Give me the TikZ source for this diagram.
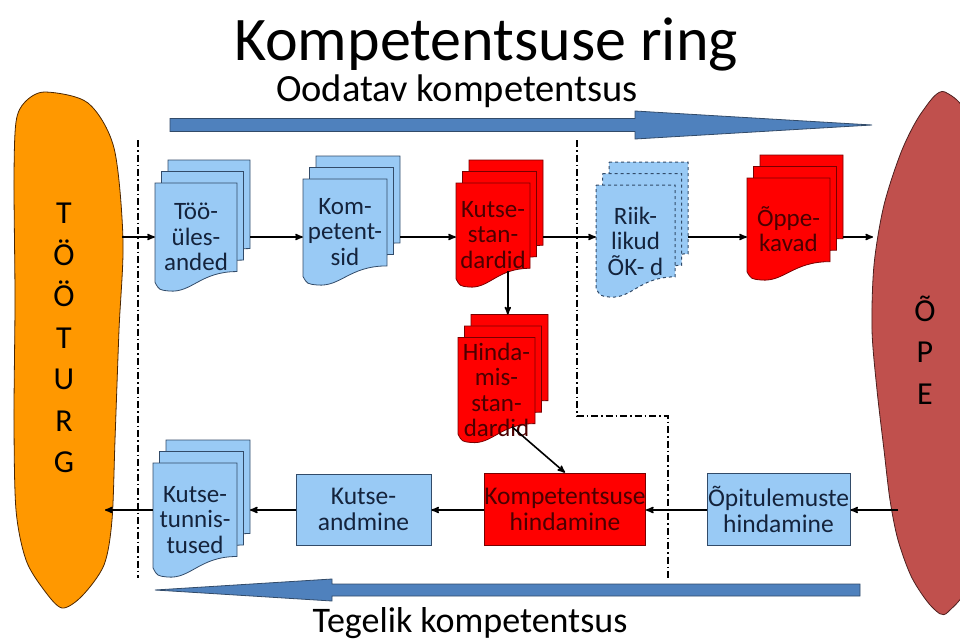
\documentclass[tikz,border=0pt]{standalone}
\usepackage{fontspec}
\setmainfont{Carlito}
\usetikzlibrary{arrows}

\definecolor{lblue}{RGB}{153,202,245}
\definecolor{bline}{RGB}{50,75,105}
\definecolor{btext}{RGB}{20,35,60}
\definecolor{dred}{RGB}{120,0,0}
\definecolor{rtext}{RGB}{75,0,0}
\definecolor{barrow}{RGB}{79,129,189}
\definecolor{orangeblob}{RGB}{255,152,0}
\definecolor{redblob}{RGB}{192,80,77}

% #1 colour scheme, #2 name, #3 cx, #4 cy, #5 width, #6 height, #7 text
\newcommand{\docstack}[7]{
  \foreach \k in {2,1,0}{
    \begin{scope}[shift={(#3+6.5*\k,#4-11.5*\k)}]
      \path[#1page] ({-#5/2},{-#6/2}) -- ({#5/2},{-#6/2}) -- ({#5/2},{0.32*#6})
        .. controls ({0.05*#5},{0.32*#6}) and ({-0.05*#5},{0.52*#6}) .. ({-0.33*#5},{0.5*#6})
        .. controls ({-0.45*#5},{0.49*#6}) .. ({-#5/2},{0.42*#6}) -- cycle;
    \end{scope}
  }
  \node[#1text,minimum width=#5,minimum height=#6] (#2) at (#3,#4) {#7};
  \coordinate (#2-e) at ({#3+#5/2+13},#4);
  \coordinate (#2-top) at ({#3+13},{#4-#6/2-23});
  \coordinate (#2-bot) at ({#3+0.2*#5},{#4+0.35*#6});
}

\begin{document}
\begin{tikzpicture}[x=1pt,y=-1pt,>=stealth',
    bluepage/.style={fill=lblue,draw=bline,line width=0.8pt},
    dashpage/.style={fill=lblue,draw=bline,line width=1pt,dashed},
    redpage/.style={fill=red,draw=dred,line width=0.8pt},
    bluetext/.style={inner sep=0pt,align=center,text=btext,font=\fontsize{25}{25.5}\selectfont},
    dashtext/.style={bluetext},
    redtext/.style={bluetext,text=rtext},
    bluebox/.style={rectangle,fill=lblue,draw=bline,line width=0.8pt,inner sep=0pt,
      align=center,text=btext,font=\fontsize{25.5}{26}\selectfont},
    redbox/.style={bluebox,fill=red,draw=dred,text=rtext},
    conn/.style={->,line width=1.6pt,black},
    sep/.style={line width=1.4pt,dash pattern=on 7pt off 3pt on 1.5pt off 3pt},
    bigarrow/.style={fill=barrow,draw=bline,line width=0.8pt},
    blobtext/.style={align=center,font=\fontsize{32}{41.5}\selectfont}]
  \useasboundingbox (0,0) rectangle (960,642);

  \node[anchor=base,inner sep=0pt,font=\fontsize{62}{66}\selectfont] (title) at (486,60) {Kompetentsuse ring};
  \node[anchor=base,inner sep=0pt,font=\fontsize{38.5}{40}\selectfont] (oodatav) at (457,101) {Oodatav kompetentsus};
  \node[anchor=base,inner sep=0pt,font=\fontsize{36}{40}\selectfont] (tegelik) at (470,632) {Tegelik kompetentsus};

  \path[bigarrow] (170,118.5) -- (635,118.5) -- (635,111) -- (872,125) -- (635,139)
    -- (635,131.5) -- (170,131.5) -- cycle;
  \path[bigarrow] (860,584) -- (332,584) -- (332,579) -- (155,590) -- (332,601)
    -- (332,596) -- (860,596) -- cycle;

  \path[fill=orangeblob,draw=black!70!orange,line width=0.8pt] plot[smooth cycle] coordinates
    {(45,92) (88,103) (114,148) (123,240) (119,330) (115,440) (112,520) (104,565) (82,596)
     (62,608) (44,590) (26,560) (16,510) (14,420) (15,300) (14,180) (16,122) (25,102)};
  \path[fill=redblob,draw=black!60!redblob,line width=0.8pt] plot[smooth cycle] coordinates
    {(945,92) (922,112) (902,150) (884,205) (874,265) (872,330) (877,390) (884,450) (890,500)
     (898,540) (912,578) (932,607) (948,612) (975,560) (985,350) (975,140)};
  \node[blobtext] (tooturg) at (64,338) {T\\Ö\\Ö\\T\\U\\R\\G};
  \node[blobtext] (ope) at (925,350) {Õ\\P\\E};

  \draw[sep] (138,140) -- (138,578);
  \draw[sep] (577,140) -- (577,416) -- (668,416) -- (668,578);

  \docstack{blue}{too}{196}{237}{82}{108}{Töö-\\üles-\\anded}
  \docstack{blue}{komp}{345}{232}{84}{106}{Kom-\\petent-\\sid}
  \docstack{red}{kstd}{493}{235}{74}{104}{Kutse-\\stan-\\dardid}
  \docstack{dash}{riik}{635.5}{241}{79}{112}{Riik-\\likud\\ÕK- d}
  \docstack{red}{oppe}{788.5}{229}{83}{102}{Õppe-\\kavad}
  \docstack{red}{hstd}{496.5}{390}{77}{105}{Hinda-\\mis-\\stan-\\dardid}
  \docstack{blue}{ktun}{195}{520}{84}{114}{Kutse-\\tunnis-\\tused}

  \node[bluebox,minimum width=135,minimum height=71] (kand) at (363.5,509.5) {Kutse-\\andmine};
  \node[redbox,minimum width=160,minimum height=72] (komph) at (565,509) {Kompetentsuse\\hindamine};
  \node[bluebox,minimum width=143,minimum height=72] (opit) at (778.5,509) {Õpitulemuste\\hindamine};

  \coordinate (tin) at (122,237);
  \coordinate (oin) at (873,237);
  \coordinate (oout) at (898,510);
  \coordinate (tout) at (105,510);

  \draw[conn] (tin) -- (too.west |- tin);
  \draw[conn] (too-e |- tin) -- (komp.west |- tin);
  \draw[conn] (komp-e |- tin) -- (kstd.west |- tin);
  \draw[conn] (kstd-e |- tin) -- (riik.west |- tin);
  \draw[conn] (riik-e |- tin) -- (oppe.west |- tin);
  \draw[conn] (oppe-e |- tin) -- (oin);
  \draw[conn] (kstd-bot) -- (kstd-bot |- hstd-top);
  \draw[conn] (hstd-bot) -- (komph.north);
  \draw[conn] (oout) -- (opit.east |- oout);
  \draw[conn] (opit.west |- oout) -- (komph.east |- oout);
  \draw[conn] (komph.west |- oout) -- (kand.east |- oout);
  \draw[conn] (kand.west |- oout) -- (ktun-e |- oout);
  \draw[conn] (ktun.west |- oout) -- (tout);
\end{tikzpicture}
\end{document}
